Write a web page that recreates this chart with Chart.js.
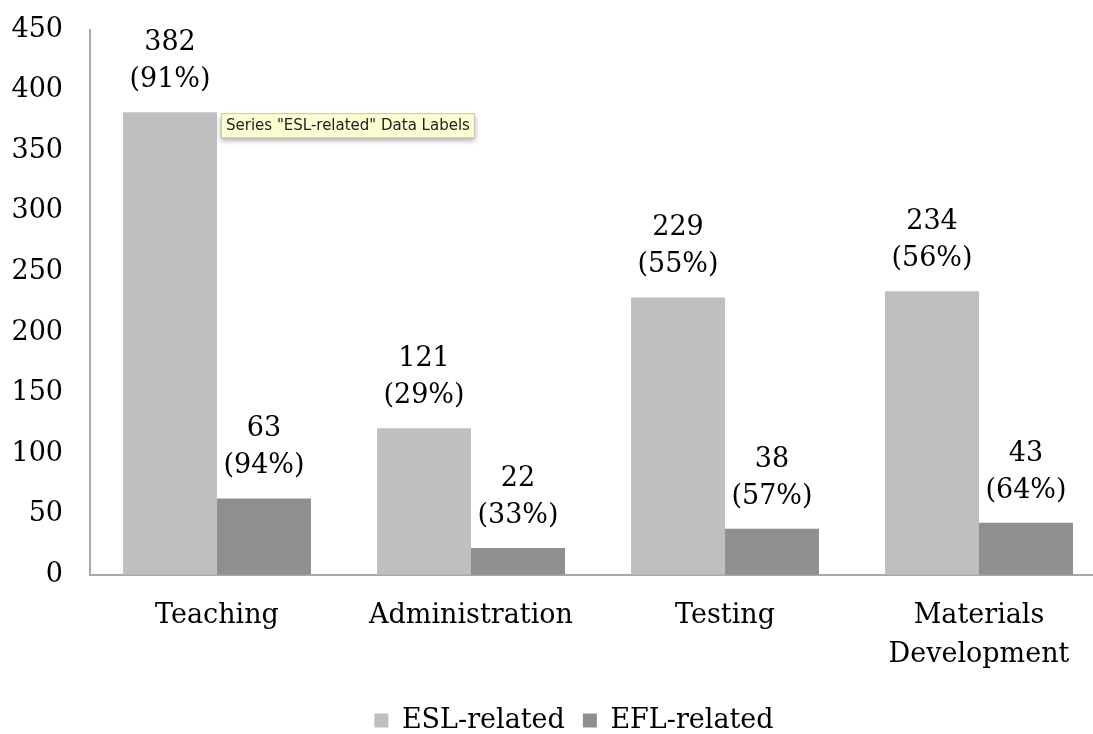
<!DOCTYPE html>
<html>
<head>
<meta charset="utf-8">
<script src="https://cdn.jsdelivr.net/npm/chart.js@4.4.0/dist/chart.umd.min.js"></script>
<style>
  html, body { margin: 0; padding: 0; background: #fff; overflow: hidden; }
  #wrap { width: 1148px; height: 744px; }
</style>
</head>
<body>
<div id="wrap"><canvas id="chart"></canvas></div>
<script>
var categories = [['Teaching'], ['Administration'], ['Testing'], ['Materials', 'Development']];
var eslValues = [382, 121, 229, 234];
var eflValues = [63, 22, 38, 43];
var eslPercents = ['91%', '29%', '55%', '56%'];
var eflPercents = ['94%', '33%', '57%', '64%'];
var yTicks = [0, 50, 100, 150, 200, 250, 300, 350, 400, 450];

var serif = '"DejaVu Serif", "Liberation Serif", serif';

// two-line labels above each bar: value then (percent)
var barLabels = {
    id: 'barLabels',
    afterDatasetsDraw: function(chart) {
        var ctx = chart.ctx;
        var pcts = [eslPercents, eflPercents];
        ctx.save();
        ctx.font = '27px ' + serif;
        ctx.fillStyle = '#000';
        ctx.textAlign = 'center';
        ctx.textBaseline = 'middle';
        chart.data.datasets.forEach(function(ds, i) {
            chart.getDatasetMeta(i).data.forEach(function(bar, j) {
                ctx.fillText(String(ds.data[j]), bar.x, bar.y - 69);
                ctx.fillText('(' + pcts[i][j] + ')', bar.x, bar.y - 32);
            });
        });
        ctx.restore();
    }
};

// the little hover note seen beside the first bar
var hoverNote = {
    id: 'hoverNote',
    afterDraw: function(chart) {
        var bar = chart.getDatasetMeta(0).data[0];
        var ctx = chart.ctx;
        var text = 'Series "ESL-related" Data Labels';
        var x = bar.x + bar.width / 2 + 4, y = bar.y + 1;
        ctx.save();
        ctx.font = '15px "DejaVu Sans", sans-serif';
        var w = ctx.measureText(text).width + 10;
        ctx.shadowColor = 'rgba(0,0,0,0.35)';
        ctx.shadowBlur = 5;
        ctx.shadowOffsetY = 3;
        ctx.fillStyle = '#fdfdd2';
        ctx.fillRect(x, y, w, 25);
        ctx.shadowColor = 'transparent';
        ctx.strokeStyle = '#c8c8a8';
        ctx.lineWidth = 1;
        ctx.strokeRect(x + 0.5, y + 0.5, w - 1, 24);
        ctx.fillStyle = '#222';
        ctx.textBaseline = 'middle';
        ctx.fillText(text, x + 5, y + 13);
        ctx.restore();
    }
};

new Chart(document.getElementById('chart'), {
    type: 'bar',
    data: {
        labels: categories,
        datasets: [{
            label: 'ESL-related',
            data: eslValues,
            backgroundColor: '#bfbfbf'
        }, {
            label: 'EFL-related',
            data: eflValues,
            backgroundColor: '#8f8f8f'
        }]
    },
    options: {
        responsive: true,
        maintainAspectRatio: false,
        animation: false,
        events: [],
        layout: { padding: { left: 0, right: 0, top: 19, bottom: 0 } },
        datasets: { bar: { categoryPercentage: 0.74, barPercentage: 1.0 } },
        scales: {
            x: {
                grid: { display: false },
                border: { color: '#a8a8a8', width: 2 },
                ticks: { color: '#000', font: { family: serif, size: 27, lineHeight: 1.45 }, padding: 14, maxRotation: 0 }
            },
            y: {
                min: 0,
                max: 450,
                afterBuildTicks: function(axis) {
                    axis.ticks = yTicks.map(function(v) { return { value: v }; });
                },
                afterFit: function(axis) { axis.width = 90; },
                grid: { display: false },
                border: { color: '#a8a8a8', width: 2 },
                ticks: { color: '#000', font: { family: serif, size: 27, lineHeight: 0.8 }, padding: 19 }
            },
            // empty right-hand space so the plot runs past the window edge
            spacer: {
                type: 'linear',
                position: 'right',
                afterFit: function(axis) { axis.width = 42; },
                grid: { display: false },
                border: { display: false },
                ticks: { display: false }
            }
        },
        plugins: {
            tooltip: { enabled: false },
            legend: {
                position: 'bottom',
                labels: {
                    color: '#000',
                    font: { family: serif, size: 27 },
                    boxWidth: 14,
                    boxHeight: 14,
                    padding: 18
                }
            }
        }
    },
    plugins: [barLabels, hoverNote]
});
</script>
</body>
</html>
